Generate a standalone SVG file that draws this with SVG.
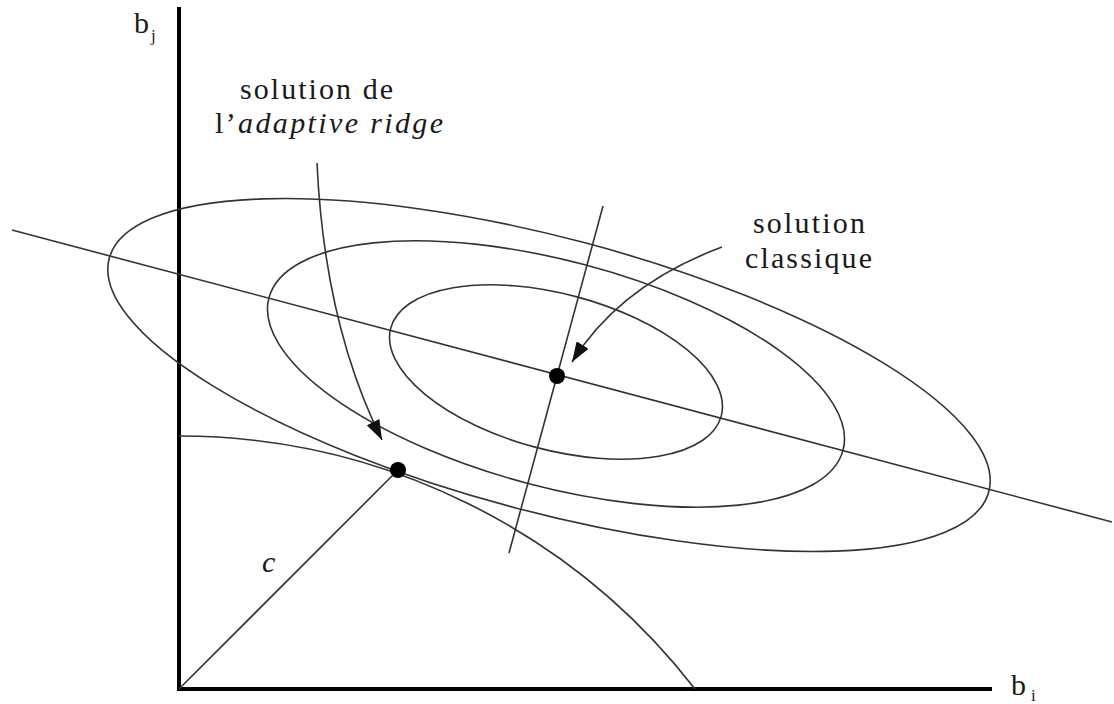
<svg xmlns="http://www.w3.org/2000/svg" width="1114" height="704" viewBox="0 0 1114 704">
<style>
.thin{fill:none;stroke:#333;stroke-width:1.6}
.axis{fill:none;stroke:#000;stroke-width:4}
.lbl{font-size:30px;fill:#1a1a1a}
.sub{font-size:17px;fill:#1a1a1a}
.dot{fill:#000}
</style>
<defs>
<marker id="ah" markerUnits="userSpaceOnUse" markerWidth="22" markerHeight="14" refX="20" refY="7" orient="auto">
<path d="M0,0 L20,7 L0,14 z" fill="#111"/>
</marker>
</defs>
<rect width="1114" height="704" fill="#fff"/>
<g id="axes">
<line class="axis" x1="179" y1="7" x2="179" y2="691"/>
<line class="axis" x1="177" y1="689" x2="992" y2="689"/>
</g>
<g id="ellipses">
<ellipse id="outer" class="thin" cx="549" cy="375" rx="455" ry="137" transform="rotate(14.86 549 375)"/>
<ellipse id="middle" class="thin" cx="556" cy="374" rx="297" ry="113" transform="rotate(14.86 556 374)"/>
<ellipse id="inner" class="thin" cx="556" cy="372" rx="171" ry="78" transform="rotate(14.86 556 372)"/>
</g>
<g id="connectors">
<line class="thin" x1="12" y1="230" x2="1112" y2="522"/>
<line class="thin" x1="603" y1="206" x2="509" y2="553"/>
<path class="thin" d="M179,436 A653,653 0 0 1 695,689"/>
<line class="thin" x1="179" y1="689" x2="398" y2="470"/>
<path class="thin" d="M317,163 Q324.5,324.5 382,440" marker-end="url(#ah)"/>
<path class="thin" d="M722,247 Q620,285 572,362" marker-end="url(#ah)"/>
</g>
<g id="points">
<circle class="dot" cx="557" cy="376" r="8"/>
<circle class="dot" cx="398" cy="470" r="8"/>
</g>
<g id="labels" font-family="Liberation Serif, Times New Roman, serif">
<text class="lbl" x="134" y="33" font-size="32">b</text><text class="sub" x="151" y="41">j</text>
<text class="lbl" x="1011" y="695" font-size="32">b</text><text class="sub" x="1031" y="701">i</text>
<text class="lbl" x="240" y="99" textLength="153" lengthAdjust="spacing">solution de</text>
<text class="lbl" x="215" y="133" textLength="228" lengthAdjust="spacing">l’<tspan font-style="italic">adaptive ridge</tspan></text>
<text class="lbl" x="753" y="233" textLength="112" lengthAdjust="spacing">solution</text>
<text class="lbl" x="745" y="268" textLength="127" lengthAdjust="spacing">classique</text>
<text class="lbl" x="262" y="572" font-size="32" font-style="italic">c</text>
</g>
</svg>
